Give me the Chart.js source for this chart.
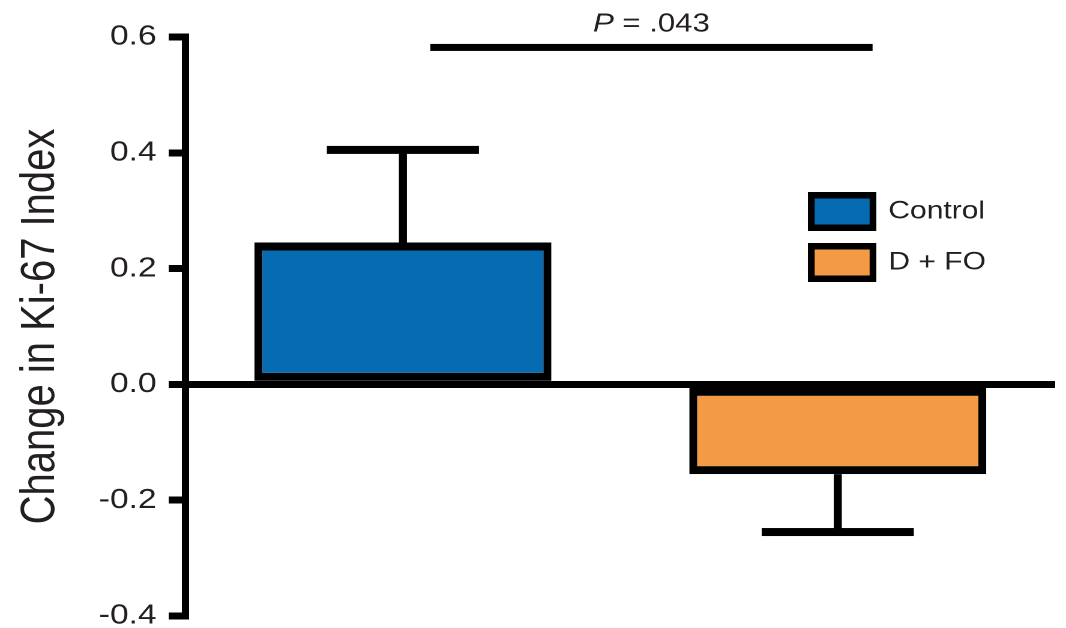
<!DOCTYPE html>
<html>
<head>
<meta charset="utf-8">
<title>Change in Ki-67 Index</title>
<script src="https://cdn.jsdelivr.net/npm/chart.js@4/dist/chart.umd.min.js"></script>
<style>
  html, body { margin: 0; padding: 0; background: #fff; }
  #chart { display: block; }
</style>
</head>
<body>
<!-- drawn on an 888px-wide canvas and widened to 1066px, which gives the wide lettering -->
<canvas id="chart" width="888" height="628" style="width:1066px;height:628px"></canvas>
<script>
// ---- data ----
const categories = ['Control', 'D + FO'];
const meanChange = [0.245, -0.155];     // mean change in Ki-67 index
const errorSize = [0.16, 0.10];         // error bar length
const yTickValues = [-0.4, -0.2, 0.0, 0.2, 0.4, 0.6];
const pValueLabel = ['P', '= .043'];
const barColors = ['#076BB1', '#F29A44'];

// ---- styling ----
const INK = '#231f20';
const FONT = "'Liberation Sans', Arial, Helvetica, sans-serif";
const bracketSpan = [0.063, 1.08];      // category positions the bracket covers
const bracketLevel = 0.582;             // y value of the bracket

Chart.defaults.font.family = FONT;
Chart.defaults.color = INK;

const overlay = {
  id: 'overlay',
  afterDatasetsDraw(chart) {
    const { ctx, scales: { x, y } } = chart;
    const bars = chart.getDatasetMeta(0).data;
    ctx.save();
    ctx.fillStyle = '#000';

    // error bars, pointing away from zero
    bars.forEach((bar, i) => {
      const v = meanChange[i];
      const end = v + Math.sign(v) * errorSize[i];
      const yEnd = y.getPixelForValue(end);
      const yBar = y.getPixelForValue(v);
      const capHalf = bar.width * 0.256;
      ctx.fillRect(bar.x - 3.35, Math.min(yEnd, yBar), 6.7, Math.abs(yBar - yEnd));
      ctx.fillRect(bar.x - capHalf, yEnd - 4, capHalf * 2, 8);
    });

    // significance bracket
    const bx1 = x.getPixelForValue(bracketSpan[0]);
    const bx2 = x.getPixelForValue(bracketSpan[1]);
    const by = y.getPixelForValue(bracketLevel);
    ctx.fillRect(bx1, by - 3.5, bx2 - bx1, 7);

    // P value text
    ctx.fillStyle = INK;
    ctx.textBaseline = 'alphabetic';
    ctx.textAlign = 'left';
    const italic = 'italic 26px ' + FONT;
    const upright = '26px ' + FONT;
    ctx.font = italic;
    const wP = ctx.measureText(pValueLabel[0]).width;
    ctx.font = upright;
    const wRest = ctx.measureText(pValueLabel[1]).width;
    const gap = 7;
    let tx = (bx1 + bx2) / 2 - (wP + gap + wRest) / 2;
    ctx.font = italic;
    ctx.fillText(pValueLabel[0], tx, 31.5);
    ctx.font = upright;
    ctx.fillText(pValueLabel[1], tx + wP + gap, 31.5);

    // legend
    const boxX = 673, boxW = 57, boxH = 39;
    const rowY = [192, 243];
    categories.forEach((name, i) => {
      const top = rowY[i];
      ctx.fillStyle = '#000';
      ctx.fillRect(boxX, top, boxW, boxH);
      ctx.fillStyle = barColors[i];
      ctx.fillRect(boxX + 5.6, top + 6.5, boxW - 11.2, boxH - 13);
      ctx.fillStyle = INK;
      ctx.font = '25px ' + FONT;
      ctx.textBaseline = 'middle';
      ctx.fillText(name, 740, top + boxH / 2);
    });

    // close the axis line out to the outer edges of the end ticks
    const area = chart.chartArea;
    ctx.fillStyle = '#000';
    ctx.fillRect(area.left - 3, area.top - 3.5, 6, 3.5);
    ctx.fillRect(area.left - 3, area.bottom, 6, 3.5);
    ctx.restore();
  }
};

new Chart(document.getElementById('chart'), {
  type: 'bar',
  data: {
    labels: categories,
    datasets: [{
      data: meanChange,
      backgroundColor: barColors,
      borderColor: '#000',
      borderWidth: { top: 8, bottom: 8, left: 6.7, right: 6.7 },
      borderSkipped: false,
      barPercentage: 0.683,
      categoryPercentage: 1.0
    }]
  },
  options: {
    responsive: false,
    animation: false,
    devicePixelRatio: 2,
    layout: { padding: { top: 37, bottom: 12, left: 0, right: 9 } },
    plugins: {
      legend: { display: false },
      tooltip: { enabled: false }
    },
    scales: {
      x: { display: false },
      y: {
        min: -0.4,
        max: 0.6,
        afterBuildTicks: (scale) => { scale.ticks = yTickValues.map(v => ({ value: v })); },
        afterFit: (scale) => {
          scale.width = 154.5;
          scale.paddingTop = 0;
          scale.paddingBottom = 0;
        },
        ticks: {
          padding: 10,
          color: INK,
          font: { size: 28, lineHeight: 0.8 },
          callback: (v) => Number(v).toFixed(1)
        },
        grid: {
          drawOnChartArea: true,
          drawTicks: true,
          tickLength: 14,
          lineWidth: 7,
          tickWidth: 7,
          tickColor: '#000',
          color: (c) => (c.tick && Math.abs(c.tick.value) < 1e-9) ? '#000' : 'rgba(0,0,0,0)'
        },
        border: { display: true, color: '#000', width: 6 },
        title: {
          display: true,
          text: 'Change in Ki-67 Index',
          color: INK,
          font: { size: 40, lineHeight: 1.2 },
          padding: { top: 10, bottom: 0 }
        }
      }
    }
  },
  plugins: [overlay]
});
</script>
</body>
</html>
